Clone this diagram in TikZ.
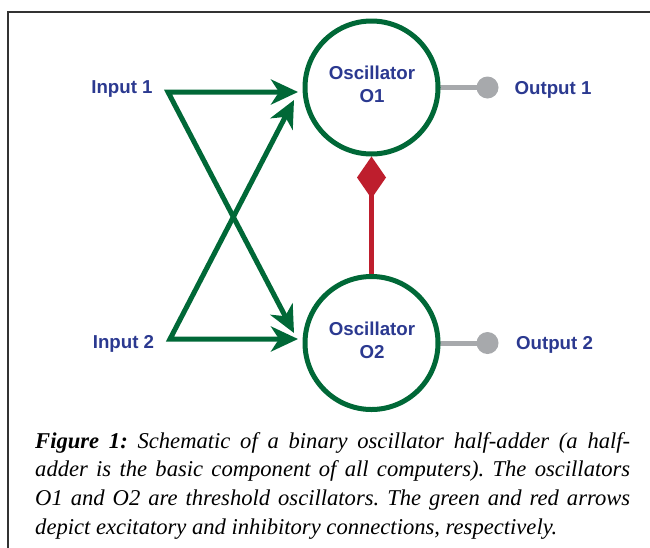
\documentclass[tikz,border=0pt]{standalone}
\usepackage{fontspec}
\setmainfont{Liberation Serif}
\newfontfamily\labelfont{Liberation Sans}
\usetikzlibrary{arrows.meta}
\definecolor{oscgreen}{RGB}{0,104,55}
\definecolor{inhred}{RGB}{190,30,45}
\definecolor{outgrey}{RGB}{167,169,172}
\definecolor{lblblue}{RGB}{43,57,144}
\definecolor{framegrey}{RGB}{50,50,50}
\begin{document}
\begin{tikzpicture}[x=1pt,y=-1pt,
  lbl/.style={font=\labelfont\bfseries\fontsize{18.7}{22}\selectfont, text=lblblue, inner sep=0pt, align=center},
  osc/.style={circle, draw=oscgreen, line width=5pt, minimum size=133pt, inner sep=0pt},
  exc/.style={draw=oscgreen, line width=5pt, line join=miter, {Stealth[length=27pt,width=25pt,inset=8pt]}-{Stealth[length=27pt,width=25pt,inset=8pt]}},
  inh/.style={draw=inhred, line width=5pt, -{Diamond[length=42pt,width=29pt]}},
  outline/.style={draw=outgrey, line width=5pt},
  outdot/.style={circle, fill=outgrey, minimum size=22pt, inner sep=0pt}]
\useasboundingbox (0,0) rectangle (650,547);
\draw[framegrey, line width=1.8pt] (651,12) -- (8,12) -- (8,548);

% outputs (drawn first so circle borders lie on top)
\node[outdot] (d1) at (487.5,87.5) {};
\node[outdot] (d2) at (487.5,343) {};
\coordinate (c1) at (371.5,87.5);
\coordinate (c2) at (371.5,343);
\draw[outline] (c1) -- (d1.center);
\draw[outline] (c2) -- (d2.center);
\node[osc, fill=white] (o1) at (c1) {};
\node[osc, fill=white] (o2) at (c2) {};
\node[lbl] at (372,84) {Oscillator\\[1pt]O1};
\node[lbl] at (372,340) {Oscillator\\[1pt]O2};

\node[lbl] (in1) at (122,89.5) {Input 1};
\node[lbl] (in2) at (123.5,344) {Input 2};
\node[lbl] (out1) at (553,89.5) {Output 1};
\node[lbl] (out2) at (554.5,344.5) {Output 2};

% excitatory connections
\coordinate (s1) at (168,92);
\coordinate (s2) at (170,339);
\coordinate (t11) at (298,92);
\coordinate (t21) at (294,100);
\coordinate (t12) at (294,333);
\coordinate (t22) at (298,339);
\draw[exc] (t12) -- (s1) -- (t11);
\draw[exc] (t21) -- (s2) -- (t22);

% inhibitory connection
\draw[inh] (o2.north) -- (o1.south);

% caption
\node[anchor=base west, inner sep=0pt] (cap) at (35,448) {\parbox[t]{595pt}{\fontsize{22.6}{28.7}\selectfont\itshape\frenchspacing
\textbf{Figure 1:} Schematic of a binary oscillator half-adder (a half-\linebreak adder is the basic component of all computers). The oscillators\linebreak O1 and O2 are threshold oscillators. The green and red arrows\linebreak depict excitatory and inhibitory connections, respectively.}};
\end{tikzpicture}
\end{document}
